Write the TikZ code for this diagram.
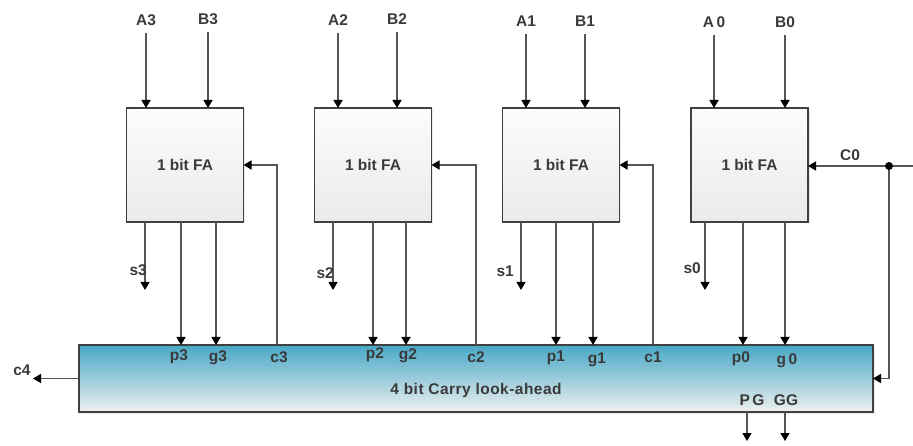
\documentclass[tikz,border=0pt]{standalone}
\usepackage{fontspec}
\setmainfont{Liberation Sans}
\usetikzlibrary{arrows.meta,shadows}
\definecolor{txt}{RGB}{58,58,58}
\definecolor{ln}{RGB}{85,85,85}
\definecolor{bd}{RGB}{64,64,64}
\definecolor{ctop}{RGB}{72,168,198}
\definecolor{cbot}{RGB}{238,240,240}
\definecolor{ftop}{RGB}{252,252,252}
\definecolor{fbot}{RGB}{234,234,234}
\begin{document}
\begin{tikzpicture}[x=1pt,y=-1pt,
  font=\fontsize{15.5}{18}\selectfont\bfseries,
  lbl/.style={text=txt,inner sep=0pt},
  fa/.style={draw=bd,line width=1.4pt,top color=ftop,bottom color=fbot,
    minimum width=117pt,minimum height=114pt,inner sep=0pt,outer sep=0pt,text=txt,
    drop shadow={opacity=0.15,shadow xshift=1.5pt,shadow yshift=-1.5pt}},
  cla/.style={draw=bd,line width=1.4pt,top color=ctop,bottom color=cbot,
    minimum width=794pt,minimum height=67pt,inner sep=0pt,outer sep=0pt,text=txt,
    drop shadow={opacity=0.15,shadow xshift=1.5pt,shadow yshift=-1.5pt}},
  arr/.style={draw=ln,line width=1.4pt,-{Triangle[width=9pt,length=8pt,color=black]}},
  wire/.style={draw=ln,line width=1.4pt}]
\useasboundingbox (0,0) rectangle (913,446);

% full adders
\node[fa] (fa3) at (185,165) {1 bit FA};
\node[fa] (fa2) at (373,165) {1 bit FA};
\node[fa] (fa1) at (561,165) {1 bit FA};
\node[fa] (fa0) at (749.5,165) {1 bit FA};
% carry look-ahead
\node[cla] (cla) at (476,378.5) {};
\node[lbl] (clat) at (476,390) {\addfontfeature{LetterSpace=3}4 bit Carry look-ahead};

% input labels
\node[lbl] (a3) at (146,20) {A3};
\node[lbl] (b3) at (208,19) {B3};
\node[lbl] (a2) at (338,20) {A2};
\node[lbl] (b2) at (397,19) {B2};
\node[lbl] (a1) at (526,21) {A1};
\node[lbl] (b1) at (585,21) {B1};
\node[lbl] (a0) at (714,22) {A\,0};
\node[lbl] (b0) at (785,22) {B0};
\foreach \n/\f in {a3/fa3,b3/fa3,a2/fa2,b2/fa2,a1/fa1,b1/fa1,a0/fa0,b0/fa0}{
  \draw[arr,shorten <=13pt] (\n.center) -- (\n.center |- \f.north);
}

% tap coordinates
\coordinate (s3) at (145,290); \coordinate (p3) at (181,0); \coordinate (g3) at (216,0); \coordinate (c3) at (277,0);
\coordinate (s2) at (333,290); \coordinate (p2) at (373,0); \coordinate (g2) at (406,0); \coordinate (c2) at (476,0);
\coordinate (s1) at (521,290); \coordinate (p1) at (556,0); \coordinate (g1) at (593,0); \coordinate (c1) at (653,0);
\coordinate (s0) at (705,290); \coordinate (p0) at (743,0); \coordinate (g0) at (785,0);

% sum outputs
\foreach \f/\s in {fa3/s3,fa2/s2,fa1/s1,fa0/s0}{
  \draw[arr] (\f.south -| \s) -- (\s);
}
\node[lbl,anchor=east] (s3l) at (147,270) {s3};
\node[lbl,anchor=east] (s2l) at (334,273) {s2};
\node[lbl,anchor=east] (s1l) at (514,271) {s1};
\node[lbl,anchor=east] (s0l) at (701,268) {s0};

% p, g into CLA
\foreach \f/\p/\g in {fa3/p3/g3,fa2/p2/g2,fa1/p1/g1,fa0/p0/g0}{
  \draw[arr] (\f.south -| \p) -- (cla.north -| \p);
  \draw[arr] (\f.south -| \g) -- (cla.north -| \g);
}
% carries from CLA
\draw[arr] (cla.north -| c3) |- (fa3.east);
\draw[arr] (cla.north -| c2) |- (fa2.east);
\draw[arr] (cla.north -| c1) |- (fa1.east);

% CLA labels
\node[lbl] (p3l) at (179,357) {p3};
\node[lbl] (g3l) at (218,358) {g3};
\node[lbl] (c3l) at (279,357) {c3};
\node[lbl] (p2l) at (375,355) {p2};
\node[lbl] (g2l) at (408,356) {g2};
\node[lbl] (c2l) at (476,357) {c2};
\node[lbl] (p1l) at (556,358) {p1};
\node[lbl] (g1l) at (597,360) {g1};
\node[lbl] (c1l) at (653,357) {c1};
\node[lbl] (p0l) at (741,359) {p0};
\node[lbl] (g0l) at (787,361) {g\,0};
\node[lbl] (pgl) at (752,400) {P\,G};
\node[lbl] (ggl) at (786,400) {GG};

% c4 output
\coordinate (c4e) at (33,378.5);
\draw[arr] (cla.west) -- (c4e);
\node[lbl] (c4l) at (22,370) {c4};

% C0 input
\coordinate (c0in) at (913,166);
\coordinate (dot) at (889,166);
\draw[arr] (c0in) -- (fa0.east |- c0in);
\draw[arr] (dot) |- (cla.east);
\fill[black] (dot) circle (4);
\node[lbl] (c0l) at (850,155) {C0};

% PG, GG outputs
\coordinate (pge) at (747,441);
\coordinate (gge) at (785,441);
\draw[arr] (cla.south -| pge) -- (pge);
\draw[arr] (cla.south -| gge) -- (gge);
\end{tikzpicture}
\end{document}
